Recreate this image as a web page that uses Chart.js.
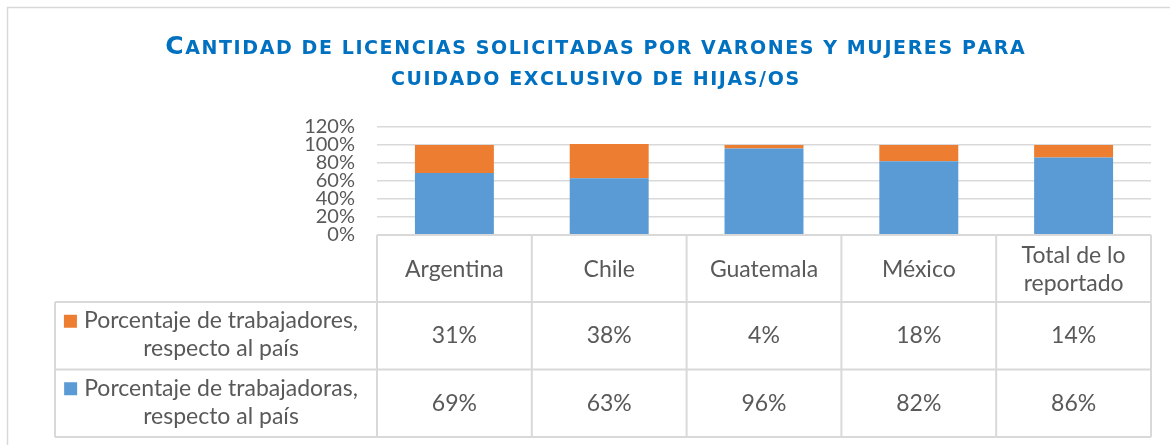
<!DOCTYPE html>
<html>
<head>
<meta charset="utf-8">
<script src="https://cdn.jsdelivr.net/npm/chart.js@4.4.1/dist/chart.umd.min.js"></script>
<style>
  html, body { margin: 0; padding: 0; background: #fff; }
  #marco { width: 1170px; height: 445px; }
</style>
</head>
<body>
<div id="marco"><canvas id="licencias"></canvas></div>
<script>
// Datos del gráfico
const paises = ['Argentina', 'Chile', 'Guatemala', 'México', ['Total de lo', 'reportado']];
const trabajadores = [31, 38, 4, 18, 14];   // varones (naranja)
const trabajadoras = [69, 63, 96, 82, 86];  // mujeres (azul)
const etiquetaVarones = ['Porcentaje de trabajadores,', 'respecto al país'];
const etiquetaMujeres = ['Porcentaje de trabajadoras,', 'respecto al país'];
const ticksY = [0, 20, 40, 60, 80, 100, 120];
const titulo = ['Cantidad de licencias solicitadas por varones y mujeres para', 'cuidado exclusivo de hijas/os'];

const AZUL = '#5B9BD5';
const NARANJA = '#ED7D31';
const GRIS_TEXTO = '#595959';
const GRIS_LINEA = '#d9d9d9';
const FUENTE = 'Lato, "Open Sans", sans-serif';
const FUENTE_TITULO = '"DejaVu Sans", sans-serif';

// dibuja texto en versalitas: mayúsculas grandes, minúsculas como mayúsculas chicas
function versalitas(ctx, texto, cx, base, grande, chica, espacio) {
  const partes = [];
  let ancho = 0;
  for (const c of texto) {
    const esMayus = c !== c.toLowerCase() && c === c.toUpperCase();
    const tam = esMayus ? grande : chica;
    ctx.font = 'bold ' + tam + 'px ' + FUENTE_TITULO;
    const letra = c.toUpperCase();
    const w = ctx.measureText(letra).width + espacio;
    partes.push([letra, tam, w]);
    ancho += w;
  }
  ancho -= espacio;
  let x = cx - ancho / 2;
  for (const [letra, tam, w] of partes) {
    ctx.font = 'bold ' + tam + 'px ' + FUENTE_TITULO;
    ctx.fillText(letra, x, base);
    x += w;
  }
}

const tituloPlugin = {
  id: 'tituloVersalitas',
  afterDraw(chart) {
    const ctx = chart.ctx;
    ctx.save();
    // marco exterior
    ctx.strokeStyle = GRIS_LINEA;
    ctx.lineWidth = 1.5;
    ctx.strokeRect(7.5, 7.5, 1200, 500);
    ctx.fillStyle = '#0070C0';
    ctx.textAlign = 'left';
    ctx.textBaseline = 'alphabetic';
    versalitas(ctx, titulo[0], 595, 54, 25, 19, 1.6);
    versalitas(ctx, titulo[1], 595, 85, 25, 19, 1.6);
    ctx.restore();
  }
};

// tabla de datos bajo el gráfico (como la de Excel)
const tablaPlugin = {
  id: 'tablaDatos',
  afterDraw(chart) {
    const ctx = chart.ctx;
    const x = chart.scales.x;
    const area = chart.chartArea;
    const n = paises.length;
    const col = (area.right - area.left) / n;
    const yTop = area.bottom;
    const hHead = 67;
    const hFila = 67.5;
    const y1 = yTop + hHead;
    const y2 = y1 + hFila;
    const y3 = y2 + hFila;
    const izq = 55;

    ctx.save();
    ctx.strokeStyle = GRIS_LINEA;
    ctx.lineWidth = 2;
    ctx.beginPath();
    // horizontales
    ctx.moveTo(area.left, yTop); ctx.lineTo(area.right, yTop);
    ctx.moveTo(izq, y1); ctx.lineTo(area.right, y1);
    ctx.moveTo(izq, y2); ctx.lineTo(area.right, y2);
    ctx.moveTo(izq, y3); ctx.lineTo(area.right, y3);
    // verticales
    ctx.moveTo(izq, y1); ctx.lineTo(izq, y3);
    for (let i = 0; i <= n; i++) {
      const xx = area.left + i * col;
      ctx.moveTo(xx, yTop); ctx.lineTo(xx, y3);
    }
    ctx.stroke();

    ctx.fillStyle = GRIS_TEXTO;
    ctx.font = '23px ' + FUENTE;
    ctx.textAlign = 'center';
    ctx.textBaseline = 'middle';
    const lh = 28;
    paises.forEach((p, i) => {
      const cx = x.getPixelForValue(i);
      const lineas = Array.isArray(p) ? p : [p];
      const cy = yTop + hHead / 2 + 1;
      lineas.forEach((l, k) => {
        ctx.fillText(l, cx, cy + (k - (lineas.length - 1) / 2) * lh);
      });
      ctx.fillText(trabajadores[i] + '%', cx, y1 + hFila / 2);
      ctx.fillText(trabajadoras[i] + '%', cx, y2 + hFila / 2);
    });

    // celdas de leyenda
    const filas = [[etiquetaVarones, NARANJA, y1], [etiquetaMujeres, AZUL, y2]];
    const cxLeyenda = 221;
    filas.forEach(([lineas, color, top]) => {
      const cy = top + hFila / 2 - 1;
      const w0 = ctx.measureText(lineas[0]).width;
      ctx.fillStyle = GRIS_TEXTO;
      ctx.fillText(lineas[0], cxLeyenda, cy - lh / 2);
      ctx.fillText(lineas[1], cxLeyenda, cy + lh / 2);
      ctx.fillStyle = color;
      ctx.fillRect(cxLeyenda - w0 / 2 - 20, cy - lh / 2 - 6, 13, 13);
    });
    ctx.restore();
  }
};

new Chart(document.getElementById('licencias'), {
  type: 'bar',
  data: {
    labels: paises,
    datasets: [
      { label: etiquetaMujeres.join(' '), data: trabajadoras, backgroundColor: AZUL },
      { label: etiquetaVarones.join(' '), data: trabajadores, backgroundColor: NARANJA }
    ]
  },
  options: {
    responsive: true,
    maintainAspectRatio: false,
    animation: false,
    layout: { padding: { top: 127, right: 19, bottom: 210, left: 0 } },
    datasets: { bar: { categoryPercentage: 1, barPercentage: 0.51 } },
    plugins: {
      legend: { display: false },
      title: { display: false },
      tooltip: { enabled: false }
    },
    scales: {
      x: { stacked: true, display: false },
      y: {
        stacked: true,
        min: 0,
        max: 120,
        afterBuildTicks: (s) => { s.ticks = ticksY.map(v => ({ value: v })); },
        afterFit: (s) => { s.width = 377; },
        border: { display: false },
        grid: { color: GRIS_LINEA, lineWidth: 1.5, drawTicks: false },
        ticks: {
          autoSkip: false,
          padding: 22,
          color: GRIS_TEXTO,
          font: { family: 'Lato', size: 20, lineHeight: 1 },
          callback: (v) => v + '%'
        }
      }
    }
  },
  plugins: [tituloPlugin, tablaPlugin]
});
</script>
</body>
</html>
